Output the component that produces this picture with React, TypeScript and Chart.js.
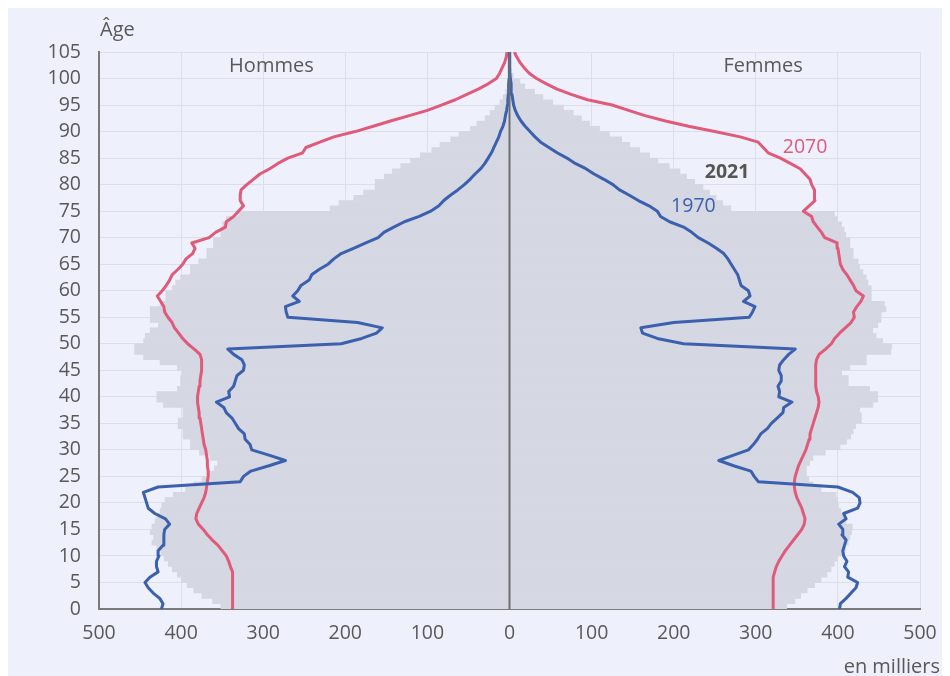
import React, { useEffect, useRef } from "react";
import { Chart, registerables } from "chart.js";

Chart.register(...registerables);

// Ages 0..105
const ages: number[] = Array.from({ length: 106 }, (_, i) => i);

// Population in thousands — 2021 (grey bars)
const men2021: number[] = [
  352, 362, 375, 385, 393, 400, 405, 411, 416, 421,
  425, 430, 436, 434, 438, 436, 432, 430, 426, 424,
  420, 410, 395, 385, 375, 368, 360, 356, 365, 378,
  389, 389, 398, 398, 404, 404, 398, 398, 422, 430,
  430, 405, 401, 401, 399, 405, 426, 446, 457, 457,
  446, 444, 438, 428, 438, 438, 438, 426, 419, 419,
  411, 407, 401, 389, 389, 379, 369, 369, 361, 361,
  352, 352, 350, 345, 330, 219, 208, 190, 178, 164,
  164, 153, 143, 133, 121, 109, 95, 85, 72, 62,
  48, 40, 30, 24, 18, 12, 8, 5, 3, 2,
  1, 1, 0.5, 0.3, 0.2, 0.1,
];
const women2021: number[] = [
  338, 348, 355, 363, 372, 380, 387, 392, 396, 400,
  405, 410, 413, 415, 417, 418, 410, 407, 404, 401,
  400, 398, 380, 370, 365, 362, 362, 366, 370, 385,
  403, 411, 416, 419, 422, 429, 429, 427, 443, 449,
  449, 439, 413, 413, 405, 415, 435, 435, 465, 466,
  455, 447, 443, 449, 453, 453, 459, 457, 441, 441,
  441, 437, 435, 431, 427, 425, 419, 419, 415, 415,
  410, 408, 405, 400, 396, 270, 260, 252, 244, 236,
  226, 216, 208, 195, 181, 171, 159, 147, 137, 122,
  110, 98, 88, 78, 66, 53, 41, 31, 19, 13,
  5, 3, 2, 1, 1, 0.5,
];

// 1970 (blue line)
const men1970: number[] = [
  424, 422, 426, 434, 440, 444, 438, 428, 430, 430,
  427, 428, 422, 421, 421, 420, 414, 419, 432, 440,
  442, 444, 446, 428, 328, 324, 315, 293, 273, 293,
  314, 316, 322, 323, 330, 334, 338, 345, 348, 357,
  341, 342, 336, 334, 332, 324, 323, 326, 336, 343,
  205, 180, 162, 155, 185, 270, 272, 273, 256, 264,
  258, 254, 244, 241, 232, 221, 214, 205, 190, 175,
  160, 153, 141, 128, 110, 96, 86, 80, 72, 63,
  55, 48, 42, 35, 30, 26, 22, 19, 16, 13,
  11, 8, 6, 5, 3.5, 2.5, 2, 1.5, 1, 1,
  0.5, 0.3, 0.2, 0.1, 0, 0,
];
const women1970: number[] = [
  402, 403, 410, 416, 422, 424, 412, 413, 408, 411,
  407, 406, 408, 410, 405, 406, 401, 410, 407, 424,
  427, 426, 418, 400, 303, 298, 294, 273, 255, 273,
  291, 297, 302, 306, 314, 319, 326, 333, 334, 344,
  328, 329, 327, 331, 331, 328, 329, 334, 340, 348,
  212, 180, 162, 160, 200, 292, 296, 299, 285, 293,
  291, 282, 280, 278, 274, 270, 266, 261, 252, 242,
  230, 222, 212, 195, 184, 180, 170, 157, 146, 134,
  126, 115, 103, 93, 80, 70, 58, 48, 38, 31,
  25, 19, 14, 10, 7, 5, 4, 3, 2, 2,
  1, 0.5, 0.5, 0.3, 0.2, 0.1,
];

// 2070 (pink line)
const men2070: number[] = [
  338, 338, 337, 337, 337, 337, 337, 338, 340, 342,
  345, 350, 355, 362, 368, 373, 379, 382, 381, 378,
  375, 372, 370, 369, 368, 367, 367, 368, 368, 369,
  370, 372, 373, 374, 375, 376, 377, 378, 379, 380,
  380, 379, 378, 377, 376, 375, 375, 375, 377, 384,
  392, 398, 403, 408, 411, 416, 420, 421, 425, 429,
  423, 418, 414, 411, 404, 398, 394, 386, 383, 387,
  366, 358, 346, 345, 336, 330, 324, 328, 328, 327,
  320, 312, 304, 292, 282, 270, 252, 248, 231, 214,
  188, 166, 145, 122, 100, 83, 66, 52, 38, 26,
  16, 12, 9, 6, 4, 3,
];
const women2070: number[] = [
  321, 321, 321, 321, 321, 321, 322, 323, 325, 328,
  332, 336, 341, 346, 351, 356, 359, 360, 358, 356,
  353, 350, 348, 347, 347, 348, 350, 352, 355, 358,
  361, 363, 365, 366, 368, 370, 372, 374, 376, 377,
  376, 374, 373, 373, 373, 373, 373, 374, 377, 385,
  392, 396, 402, 409, 416, 420, 419, 423, 428, 431,
  422, 419, 415, 411, 406, 403, 402, 401, 400, 399,
  384, 380, 375, 370, 368, 358, 365, 372, 372, 371,
  368, 366, 360, 354, 342, 330, 315, 309, 303, 281,
  250, 218, 190, 165, 145, 125, 95, 75, 58, 45,
  33, 24, 18, 13, 9, 6,
];

const xTicks: number[] = [-500, -400, -300, -200, -100, 0, 100, 200, 300, 400, 500];

const BG = "#eef0fc";
const GRID = "#dcdfeb";
const BAR = "#d5d7e3";
const BLUE = "#3b60ad";
const PINK = "#e05a79";
const TEXT = "#595959";
const FONT = "'Open Sans', 'Noto Sans', sans-serif";

const annotPlugin = {
  id: "annot",
  afterDatasetsDraw(chart: any) {
    const { ctx, chartArea, scales } = chart;
    const x = scales.x;
    const y = scales.y;
    ctx.save();
    // zero line
    const x0 = x.getPixelForValue(0);
    ctx.strokeStyle = "#6f6f6f";
    ctx.lineWidth = 2;
    ctx.beginPath();
    ctx.moveTo(x0, chartArea.top);
    ctx.lineTo(x0, chartArea.bottom);
    ctx.stroke();

    const txt = (s: string, px: number, py: number, color: string, align: CanvasTextAlign, weight = "normal", size = 20) => {
      ctx.font = `${weight} ${size}px ${FONT}`;
      ctx.fillStyle = color;
      ctx.textAlign = align;
      ctx.textBaseline = "alphabetic";
      ctx.fillText(s, px, py);
    };
    txt("Hommes", x.getPixelForValue(-290), y.getPixelForValue(101.2), TEXT, "center");
    txt("Femmes", x.getPixelForValue(309), y.getPixelForValue(101.2), TEXT, "center");
    txt("2070", x.getPixelForValue(360), y.getPixelForValue(86.0), PINK, "center", "normal", 19.5);
    txt("2021", x.getPixelForValue(265), y.getPixelForValue(81.2), "#555555", "center", "bold", 19.5);
    txt("1970", x.getPixelForValue(224), y.getPixelForValue(74.8), BLUE, "center", "normal", 19.5);
    txt("Âge", chartArea.left + 1, 28, TEXT, "left");
    txt("en milliers", chart.width - 10, 665, TEXT, "right");
    ctx.restore();
  },
};

export default function App() {
  const ref = useRef<HTMLCanvasElement | null>(null);

  useEffect(() => {
    if (!ref.current) return;
    const lineDs = (label: string, vals: number[], sign: number, color: string) => ({
      type: "line" as const,
      label,
      data: vals.map((v, i) => ({ x: sign * v, y: ages[i] })),
      borderColor: color,
      backgroundColor: color,
      borderWidth: 3,
      pointRadius: 0,
      tension: 0,
      fill: false,
      borderJoinStyle: "round" as const,
      indexAxis: "y" as const,
    });
    const barDs = (label: string, vals: number[], sign: number) => ({
      type: "bar" as const,
      label,
      data: vals.map((v, i) => ({ x: sign * v, y: ages[i] + 0.5 })),
      backgroundColor: BAR,
      borderWidth: 0,
      barPercentage: 1.1,
      categoryPercentage: 1,
      grouped: false,
      indexAxis: "y" as const,
    });

    const chart = new Chart(ref.current, {
      type: "line",
      data: {
        datasets: [
          lineDs("Hommes 1970", men1970, -1, BLUE),
          lineDs("Femmes 1970", women1970, 1, BLUE),
          lineDs("Hommes 2070", men2070, -1, PINK),
          lineDs("Femmes 2070", women2070, 1, PINK),
          barDs("Hommes 2021", men2021, -1),
          barDs("Femmes 2021", women2021, 1),
        ] as any,
      },
      options: {
        animation: false,
        responsive: false,
        maintainAspectRatio: false,
        devicePixelRatio: 1,
        indexAxis: "y",
        layout: { padding: { top: 44, right: 30, left: 0, bottom: 0 } },
        plugins: { legend: { display: false }, tooltip: { enabled: false } },
        scales: {
          x: {
            type: "linear",
            min: -500,
            max: 500,
            afterBuildTicks: (s: any) => {
              s.ticks = xTicks.map((v) => ({ value: v }));
            },
            ticks: {
              callback: (v: any) => String(Math.abs(Number(v))),
              color: TEXT,
              font: { family: FONT, size: 19.5 },
              padding: 13,
              maxRotation: 0,
              autoSkip: false,
            },
            grid: { color: GRID, lineWidth: 1, drawTicks: false, offset: false },
            border: { display: true, color: "#7a7a7a", width: 2 },
            afterFit: (s: any) => {
              s.height = 67;
            },
          },
          y: {
            type: "linear",
            min: 0,
            max: 105,
            offset: false,
            ticks: {
              stepSize: 5,
              color: TEXT,
              font: { family: FONT, size: 19.5 },
              padding: 18,
              autoSkip: false,
            },
            grid: { color: GRID, lineWidth: 1, drawTicks: false, offset: false },
            border: { display: true, color: "#7a7a7a", width: 2 },
            afterFit: (s: any) => {
              s.width = 91;
            },
          },
        } as any,
      },
      plugins: [annotPlugin],
    });
    return () => chart.destroy();
  }, []);

  return (
    <div style={{ width: 942, height: 668, background: BG }}>
      <canvas ref={ref} width={942} height={668} style={{ display: "block" }} />
    </div>
  );
}
